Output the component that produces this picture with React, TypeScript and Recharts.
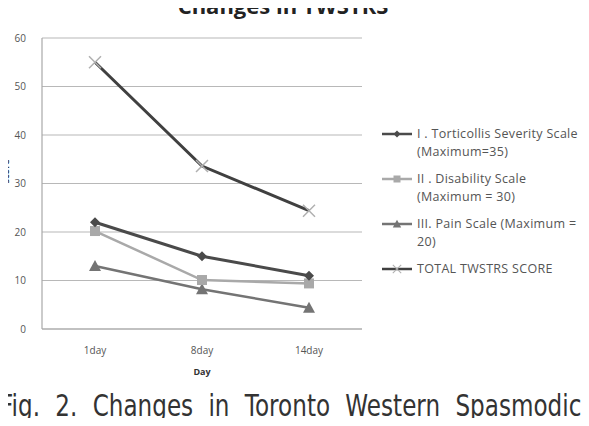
import React from 'react';
import { LineChart, CartesianGrid, XAxis, YAxis, Line, Legend } from 'recharts';

const days = ['1day', '8day', '14day'];
const torticollis = [22, 15, 11];
const disability = [20.2, 10.1, 9.4];
const pain = [13, 8.2, 4.4];
const total = [55, 33.6, 24.4];
const yTicks = [0, 10, 20, 30, 40, 50, 60];

const legendLabels = [
  ['I . Torticollis Severity Scale', '(Maximum=35)'],
  ['II . Disability Scale', '(Maximum = 30)'],
  ['III. Pain Scale (Maximum =', '20)'],
  ['TOTAL TWSTRS SCORE'],
];

const caption = 'Fig. 2. Changes in Toronto Western Spasmodic';

const data = days.map((d, i) => ({
  day: d,
  torticollis: torticollis[i],
  disability: disability[i],
  pain: pain[i],
  total: total[i],
}));

const DiamondDot = (props: any) => {
  const { cx, cy } = props;
  return <path d={`M${cx},${cy - 5} L${cx + 5},${cy} L${cx},${cy + 5} L${cx - 5},${cy} Z`} fill="#4a4a4a" />;
};
const SquareDot = (props: any) => {
  const { cx, cy } = props;
  return <rect x={cx - 5} y={cy - 5} width={10} height={10} fill="#a9a9a9" />;
};
const TriangleDot = (props: any) => {
  const { cx, cy } = props;
  return <path d={`M${cx},${cy - 6} L${cx + 6},${cy + 5} L${cx - 6},${cy + 5} Z`} fill="#747474" />;
};
const CrossDot = (props: any) => {
  const { cx, cy } = props;
  return (
    <path d={`M${cx - 6},${cy - 6} L${cx + 6},${cy + 6} M${cx + 6},${cy - 6} L${cx - 6},${cy + 6}`} stroke="#b0b0b0" strokeWidth={1.5} />
  );
};

const icons = [
  { color: '#4a4a4a', Dot: DiamondDot },
  { color: '#a9a9a9', Dot: SquareDot },
  { color: '#747474', Dot: TriangleDot },
  { color: '#404040', Dot: CrossDot },
];

const renderLegend = () => (
  <div style={{ fontFamily: '"Open Sans", "DejaVu Sans", sans-serif', fontSize: 12.5, letterSpacing: 0.3, color: '#555' }}>
    {legendLabels.map((lines, i) => {
      const { color, Dot } = icons[i];
      return (
        <div key={lines[0]} style={{ display: 'flex', alignItems: 'flex-start', height: 45 }}>
          <svg width={32} height={18} style={{ flexShrink: 0 }}>
            <line x1={1} y1={9} x2={31} y2={9} stroke={color} strokeWidth={2.5} />
            <g transform="translate(16,9) scale(0.7) translate(-16,-9)">
              <Dot cx={16} cy={9} />
            </g>
          </svg>
          <div style={{ marginLeft: 4, lineHeight: '18px', whiteSpace: 'nowrap' }}>
            {lines.map((l) => (
              <div key={l}>{l}</div>
            ))}
          </div>
        </div>
      );
    })}
  </div>
);

export default function App() {
  return (
    <div style={{ position: 'relative', width: 589, height: 426, margin: -8, background: '#fff', overflow: 'hidden' }}>
      <svg width={589} height={30} style={{ position: 'absolute', left: 0, top: 0 }}>
        <text x={283} y={14} textAnchor="middle" fontFamily='"Open Sans", sans-serif' fontWeight={700} fontSize={22} fill="#222">
          Changes in TWSTRS
        </text>
      </svg>
      <LineChart width={589} height={390} data={data} margin={{ top: 38, right: 227, bottom: 31, left: 0 }}>
        <CartesianGrid vertical={false} stroke="#b8b8b8" strokeWidth={1.2} />
        <XAxis
          dataKey="day"
          padding={{ left: 53, right: 53 }}
          axisLine={{ stroke: '#a8a8a8', strokeWidth: 1.2 }}
          tickLine={false}
          tick={{ fontSize: 10, fill: '#555', fontFamily: '"Open Sans", sans-serif' }}
          tickMargin={12}
          height={30}
          label={{ value: 'Day', position: 'insideBottom', offset: -16, fontSize: 9, fontWeight: 700, fill: '#333', fontFamily: '"Open Sans", sans-serif' }}
        />
        <YAxis
          domain={[0, 60]}
          ticks={yTicks}
          width={42}
          axisLine={{ stroke: '#a8a8a8', strokeWidth: 1.2 }}
          tickLine={false}
          tick={{ fontSize: 10, fill: '#555', fontFamily: '"Open Sans", sans-serif' }}
          tickMargin={10}
          label={{ value: 'score', angle: -90, position: 'insideLeft', offset: 6, fontSize: 9, fontWeight: 700, fill: '#333', fontFamily: '"Open Sans", sans-serif' }}
        />
        <Legend
          layout="vertical"
          verticalAlign="middle"
          align="center"
          content={renderLegend}
          wrapperStyle={{ top: 125, left: 381, width: 208 }}
        />
        <Line dataKey="pain" stroke="#747474" strokeWidth={2.5} dot={<TriangleDot />} isAnimationActive={false} />
        <Line dataKey="disability" stroke="#a9a9a9" strokeWidth={2.5} dot={<SquareDot />} isAnimationActive={false} />
        <Line dataKey="torticollis" stroke="#4a4a4a" strokeWidth={3} dot={<DiamondDot />} isAnimationActive={false} />
        <Line dataKey="total" stroke="#404040" strokeWidth={3} dot={<CrossDot />} isAnimationActive={false} />
      </LineChart>
      <div
        style={{
          position: 'absolute', left: 0, top: 391, width: 755, fontFamily: '"DejaVu Sans", sans-serif',
          fontSize: 30, lineHeight: '30px', color: '#333', whiteSpace: 'nowrap', display: 'flex',
          justifyContent: 'space-between', transform: 'scaleX(0.77)', transformOrigin: 'left top',
        }}
      >
        {caption.split(' ').map((w, i) => (
          <span key={i}>{w}</span>
        ))}
      </div>
    </div>
  );
}
